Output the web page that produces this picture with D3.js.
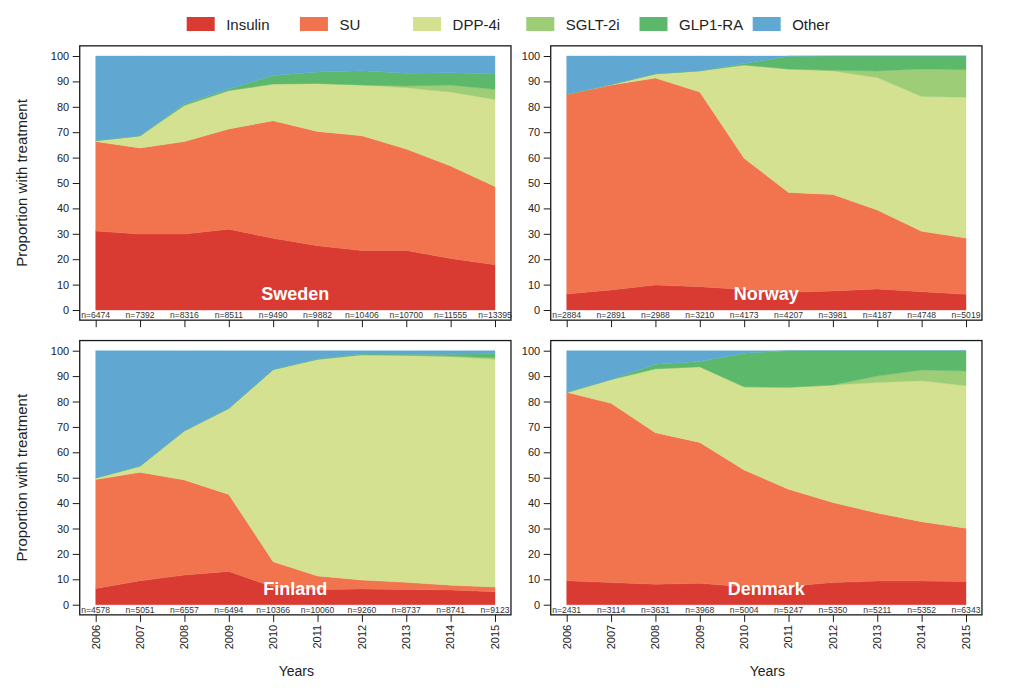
<!DOCTYPE html>
<html>
<head>
<meta charset="utf-8">
<script src="https://cdn.jsdelivr.net/npm/d3@7"></script>
<style>
  html, body { margin: 0; padding: 0; background: #fff; }
  svg { display: block; font-family: Arial, "Liberation Sans", Helvetica, sans-serif; }
</style>
</head>
<body>
<svg id="chart" width="1024" height="691"></svg>
<script>
// ---------------- DATA ----------------
const years = [2006, 2007, 2008, 2009, 2010, 2011, 2012, 2013, 2014, 2015];
const seriesNames = ["Insulin", "SU", "DPP-4i", "SGLT-2i", "GLP1-RA", "Other"];
const seriesColors = ["#d93b33", "#f1744f", "#d4e190", "#9dcd76", "#5cb96b", "#60a8d2"];
const countries = ["Sweden", "Norway", "Finland", "Denmark"];

// values in % per series (order as seriesNames)
const swedenInsulin = [31.1, 29.9, 29.9, 31.8, 28.2, 25.3, 23.4, 23.4, 20.3, 17.8];
const swedenSU      = [35.2, 33.9, 36.4, 39.5, 46.3, 45.0, 45.2, 40.0, 36.4, 30.8];
const swedenDPP4    = [0.4, 4.8, 14.3, 15.1, 14.5, 18.9, 20.0, 24.1, 29.1, 34.3];
const swedenSGLT2   = [0, 0, 0, 0, 0, 0, 0, 0.7, 2.7, 4.0];
const swedenGLP1    = [0, 0, 0.6, 0.6, 3.3, 4.5, 5.6, 5.0, 4.9, 6.0];
const swedenOther   = [33.3, 31.4, 18.8, 13.0, 7.7, 6.3, 5.8, 6.8, 6.6, 7.1];
const swedenN = [6474, 7392, 8316, 8511, 9490, 9882, 10406, 10700, 11555, 13395];

const norwayInsulin = [6.3, 7.9, 9.8, 9.2, 8.1, 7.0, 7.5, 8.3, 7.2, 6.2];
const norwaySU      = [78.6, 80.7, 81.5, 76.6, 51.6, 39.3, 38.0, 31.1, 23.8, 22.1];
const norwayDPP4    = [0, 0.2, 1.7, 8.4, 36.8, 48.6, 48.6, 52.1, 53.1, 55.5];
const norwaySGLT2   = [0, 0, 0, 0, 0, 0, 0.3, 2.6, 10.8, 10.8];
const norwayGLP1    = [0, 0, 0, 0, 0.5, 5.0, 5.6, 5.9, 5.1, 5.4];
const norwayOther   = [15.1, 11.2, 7.0, 5.8, 3.0, 0.1, 0, 0, 0, 0];
const norwayN = [2884, 2891, 2988, 3210, 4173, 4207, 3981, 4187, 4748, 5019];

const finlandInsulin = [6.4, 9.4, 11.7, 13.1, 7.0, 6.0, 6.2, 6.0, 5.8, 5.1];
const finlandSU      = [42.9, 42.7, 37.4, 30.3, 9.9, 5.3, 3.5, 2.8, 1.9, 1.9];
const finlandDPP4    = [0.6, 2.5, 19.4, 33.9, 75.7, 85.3, 88.7, 89.4, 89.9, 89.6];
const finlandSGLT2   = [0, 0, 0, 0, 0, 0, 0, 0, 0.3, 0.6];
const finlandGLP1    = [0, 0, 0, 0, 0, 0.2, 0.3, 0.4, 0.7, 1.6];
const finlandOther   = [50.1, 45.4, 31.5, 22.7, 7.4, 3.2, 1.3, 1.4, 1.4, 1.2];
const finlandN = [4578, 5051, 6557, 6494, 10366, 10060, 9260, 8737, 8741, 9123];

const denmarkInsulin = [9.4, 8.7, 8.1, 8.4, 7.1, 7.3, 8.7, 9.3, 9.3, 9.1];
const denmarkSU      = [74.2, 70.6, 59.6, 55.5, 45.9, 38.2, 31.5, 26.8, 23.4, 21.0];
const denmarkDPP4    = [0, 9.4, 25.2, 29.8, 32.8, 40.1, 46.3, 51.4, 55.5, 56.1];
const denmarkSGLT2   = [0, 0, 0, 0, 0, 0, 0, 2.5, 4.2, 5.8];
const denmarkGLP1    = [0, 0, 1.8, 2.0, 13.2, 14.4, 13.5, 10.0, 7.6, 8.0];
const denmarkOther   = [16.4, 11.3, 5.3, 4.3, 1.0, 0, 0, 0, 0, 0];
const denmarkN = [2431, 3114, 3631, 3968, 5004, 5247, 5350, 5211, 5352, 6343];

const yTicks = [0, 10, 20, 30, 40, 50, 60, 70, 80, 90, 100];

// ---------------- BUILD TABLES ----------------
function buildRows(cols) {
  return years.map((yr, i) => {
    const row = { year: yr };
    seriesNames.forEach((s, k) => { row[s] = cols[k][i]; });
    return row;
  });
}
const panels = [
  { name: "Sweden",  rows: buildRows([swedenInsulin, swedenSU, swedenDPP4, swedenSGLT2, swedenGLP1, swedenOther]), n: swedenN, col: 0, row: 0 },
  { name: "Norway",  rows: buildRows([norwayInsulin, norwaySU, norwayDPP4, norwaySGLT2, norwayGLP1, norwayOther]), n: norwayN, col: 1, row: 0 },
  { name: "Finland", rows: buildRows([finlandInsulin, finlandSU, finlandDPP4, finlandSGLT2, finlandGLP1, finlandOther]), n: finlandN, col: 0, row: 1 },
  { name: "Denmark", rows: buildRows([denmarkInsulin, denmarkSU, denmarkDPP4, denmarkSGLT2, denmarkGLP1, denmarkOther]), n: denmarkN, col: 1, row: 1 }
];

// ---------------- LAYOUT ----------------
const svg = d3.select("#chart");
svg.append("rect").attr("width", 1024).attr("height", 691).attr("fill", "#fff");

const colX = [95.7, 566.7];     // x of 2006
const plotW = 399.3;            // 2006 -> 2015
const rowY0 = [310, 604.7];     // y of 0
const plotH = 254;              // 0 -> 100

const stack = d3.stack().keys(seriesNames);

panels.forEach(p => {
  const x = d3.scaleLinear().domain([2006, 2015]).range([colX[p.col], colX[p.col] + plotW]);
  const y = d3.scaleLinear().domain([0, 100]).range([rowY0[p.row], rowY0[p.row] - plotH]);
  const bx0 = x(2006 - 0.36), bx1 = x(2015 + 0.36);
  const by0 = y(104), by1 = y(-4);

  const g = svg.append("g");
  const area = d3.area()
    .x(d => x(d.data.year))
    .y0(d => y(d[0]))
    .y1(d => y(d[1]));

  const stacked = stack(p.rows);
  g.selectAll("path.layer").data(stacked).join("path")
    .attr("class", "layer")
    .attr("d", area)
    .attr("fill", (d, i) => seriesColors[i])
    .attr("stroke", (d, i) => seriesColors[i])
    .attr("stroke-width", 0.4);

  // country label
  g.append("text")
    .attr("x", (x(2006) + x(2015)) / 2)
    .attr("y", y(0) - 10)
    .attr("text-anchor", "middle")
    .attr("fill", "#fff")
    .attr("font-weight", "bold")
    .attr("font-size", 18)
    .text(p.name);

  // n labels
  g.selectAll("text.n").data(p.n).join("text")
    .attr("class", "n")
    .attr("x", (d, i) => x(years[i]))
    .attr("y", y(0) + 8.3)
    .attr("text-anchor", "middle")
    .attr("font-size", 8.6)
    .attr("fill", "#333")
    .text(d => "n=" + d);

  // box
  g.append("rect")
    .attr("x", bx0).attr("y", by0)
    .attr("width", bx1 - bx0).attr("height", by1 - by0)
    .attr("fill", "none").attr("stroke", "#1a1a1a").attr("stroke-width", 1.3);

  // y axis
  const ya = g.append("g")
    .attr("transform", `translate(${bx0},0)`)
    .call(d3.axisLeft(y).tickValues(yTicks).tickSize(7).tickSizeOuter(0).tickPadding(3.5));
  ya.select(".domain").remove();
  ya.selectAll("line").attr("stroke", "#1a1a1a");
  ya.selectAll("text").attr("font-size", 11).attr("font-family", "Arial, 'Liberation Sans', sans-serif").attr("fill", "#222");

  // x axis ticks
  const xa = g.append("g")
    .attr("transform", `translate(0,${by1})`)
    .call(d3.axisBottom(x).tickValues(years).tickSize(7).tickSizeOuter(0).tickFormat(""));
  xa.select(".domain").remove();
  xa.selectAll("line").attr("stroke", "#1a1a1a");

  if (p.row === 1) {
    g.selectAll("text.year").data(years).join("text")
      .attr("class", "year")
      .attr("transform", d => `translate(${x(d)},${by1 + 10}) rotate(-90)`)
      .attr("text-anchor", "end")
      .attr("dy", "0.35em")
      .attr("font-size", 11)
      .attr("fill", "#222")
      .text(d => d);
    g.append("text")
      .attr("x", (x(2006) + x(2015)) / 2 + 1)
      .attr("y", 676)
      .attr("text-anchor", "middle")
      .attr("font-size", 14)
      .attr("fill", "#222")
      .text("Years");
  }
  if (p.col === 0) {
    g.append("text")
      .attr("transform", `translate(27,${(y(0) + y(100)) / 2}) rotate(-90)`)
      .attr("text-anchor", "middle")
      .attr("font-size", 15)
      .attr("fill", "#222")
      .text("Proportion with treatment");
  }
});

// ---------------- LEGEND ----------------
const legend = svg.append("g");
seriesNames.forEach((s, i) => {
  const lx = 186.7 + i * 113.2;
  legend.append("rect").attr("x", lx).attr("y", 17).attr("width", 28).attr("height", 14).attr("fill", seriesColors[i]);
  legend.append("text").attr("x", lx + 39.5).attr("y", 29.5).attr("font-size", 15).attr("fill", "#222").text(s);
});
</script>
</body>
</html>
